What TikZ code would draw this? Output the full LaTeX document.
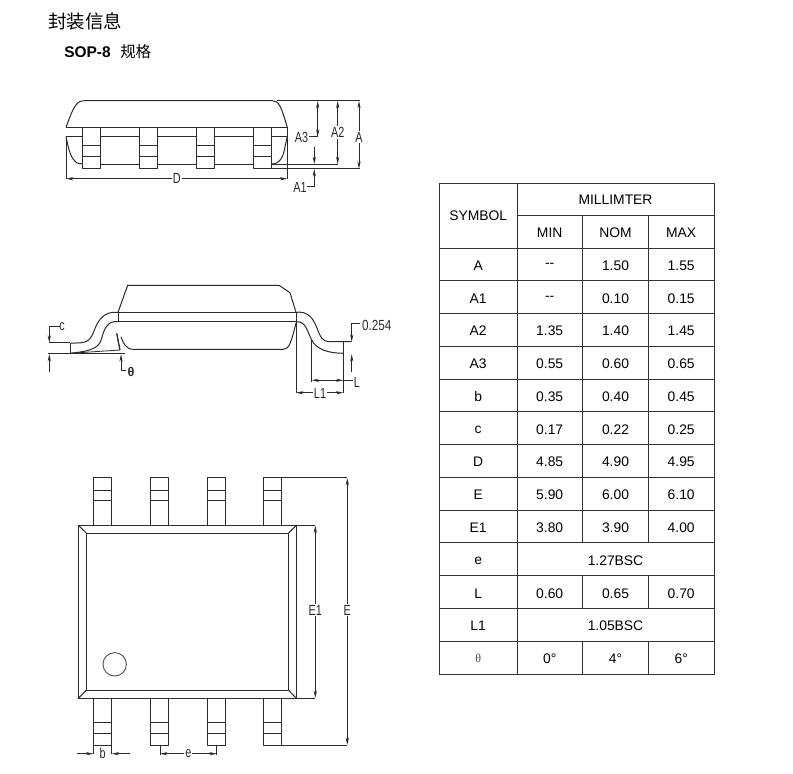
\documentclass[tikz,border=0pt]{standalone}
\usepackage{fontspec}
\setmainfont{Liberation Sans}
\newfontfamily\cjkfont{Noto Sans CJK SC}
\newfontfamily\serifgreek{Liberation Serif}
\usetikzlibrary{arrows.meta}
\definecolor{ink}{HTML}{2A2A2A}
\definecolor{tbl}{HTML}{333333}
\newcommand\dbldash{-\kern0pt-}
\tikzset{
  x=0.75pt,y=-0.75pt,
  pkg/.style={draw=ink,line width=0.75pt,line join=round},
  thinline/.style={draw=ink,line width=0.6pt},
  dimto/.style={thinline,-{Stealth[length=5.5pt,width=2.4pt]}},
  dimboth/.style={thinline,{Stealth[length=5.5pt,width=2.4pt]}-{Stealth[length=5.5pt,width=2.4pt]}},
  dimlabel/.style={font=\fontsize{11}{11}\selectfont,text=ink,inner sep=1pt,xscale=0.74,transform shape},
  dimbreak/.style={dimlabel,fill=white},
  rule/.style={draw=tbl,line width=0.7pt},
  cell/.style={font=\fontsize{10.4}{12}\selectfont,text=black,inner sep=0pt},
}
\begin{document}
\begin{tikzpicture}
\useasboundingbox (0,0) rectangle (793,774);
% ------ headings
\node[anchor=west,inner sep=0pt,font=\cjkfont\fontsize{13.9}{15}\selectfont] (title) at (48,21) {封装信息};
\node[anchor=west,inner sep=0pt,font=\bfseries\fontsize{11.6}{13}\selectfont] (sop) at (64,52) {SOP-8};
\node[anchor=west,inner sep=0pt,font=\cjkfont\fontsize{11.6}{13}\selectfont] (spec) at (120,52) {规格};

% ------ top view
\draw[pkg] (66,127.3) .. controls (70,117) and (74,104) .. (80,101.5) .. controls (82,100.7) and (84,100.7) .. (86,100.7)
  -- (272,100.7) .. controls (279,100.7) and (281,106) .. (287.3,127.3);
\draw[pkg] (66,127.3) -- (287.3,127.3);
\draw[pkg] (66,136.7) .. controls (68,146) and (70,156) .. (74,160) .. controls (76,163) and (79,164) .. (82.3,164);
\draw[pkg] (287.3,136.7) .. controls (285,146) and (284,155) .. (281,159) .. controls (278,163) and (275,164) .. (271.3,164);
\foreach \l/\r in {66/82.3,100.3/139.7,157/196.3,214.3/253.3,271.3/287.3}{
  \draw[pkg] (\l,136.7) -- (\r,136.7);
}
\foreach \l/\r in {100.3/139.7,157/196.3,214.3/253.3}{
  \draw[pkg] (\l,164) -- (\r,164);
}
\foreach \l/\r in {82.3/100.3,139.7/157,196.3/214.3,253.3/271.3}{
  \draw[pkg] (\l,127.3) rectangle (\r,168.7);
  \draw[pkg] (\l,145.3) -- (\r,145.3) (\l,156) -- (\r,156);
}
% top view dimensions
\draw[thinline] (276.7,100.7) -- (360,100.7);
\draw[thinline] (271.3,168.7) -- (360,168.7);
\draw[thinline] (271.3,164) -- (337.7,164);
\draw[dimto] (317.7,136.7) -- (317.7,101);
\draw[dimto] (317.7,120) -- (317.7,136.7);
\draw[thinline] (317.7,136.7) -- (309,136.7);
\node[dimlabel] (A3) at (301.5,137) {A3};
\draw[dimboth] (337.7,101) -- (337.7,164);
\node[dimbreak] (A2) at (337.7,132.5) {A2};
\draw[dimboth] (359,101) -- (359,168.7);
\node[dimbreak] (Atop) at (359,137) {A};
\draw[dimto] (314.3,146.7) -- (314.3,164);
\draw[dimto] (314.3,186.5) -- (314.3,169);
\draw[thinline] (314.3,186.5) -- (307,186.5);
\node[dimlabel] (A1) at (300,187) {A1};
\draw[thinline] (66,136) -- (66,179) (287.3,127.3) -- (287.3,179);
\draw[dimboth] (66,178.7) -- (287.3,178.7);
\node[dimbreak] (Dlab) at (176.7,178.7) {D};

% ------ side view
\draw[pkg] (118,312.3) -- (127.7,285.3) -- (279,285.3) -- (290,292.7) -- (296,312.3);
\draw[pkg] (118,312.3) -- (296,312.3) (118,321.7) -- (296,321.7);
\draw[pkg] (118,312.3) -- (118,321.7) (296,312.3) -- (296,393);
\draw[pkg] (121,336.7) .. controls (123,343) and (126,349.3) .. (133.3,349.3) -- (283.3,349.3)
  .. controls (289,349.3) and (291,343) .. (296,323);
% left lead
\draw[pkg] (118,312.3) .. controls (104,311) and (98,320) .. (94,331) .. controls (91,339) and (88,342) .. (82,342.7) -- (70,343.3);
\draw[pkg] (118,321.7) .. controls (108,320) and (104,329) .. (101.7,338.3) .. controls (99,348) and (92,351) .. (70,353.3);
\draw[pkg] (70,343.3) -- (70,353.3);
\draw[thinline] (48,353.3) -- (125,353.3);
\draw[thinline] (70,353.3) -- (120,350);
\draw[pkg,line width=1pt] (116.7,333.3) -- (120,350);
\draw[dimto] (121,370) -- (121,354.3);
\draw[thinline] (121,370) -- (126,370);
\node[inner sep=0pt,font=\bfseries\fontsize{9.5}{11}\selectfont,text=ink] (thetalab) at (131,372) {θ};
\draw[thinline] (60,326.7) -- (49.3,326.7);
\draw[dimto] (49.3,326.7) -- (49.3,342.7);
\node[dimlabel] (clab) at (62,327) {c};
\draw[thinline] (49,342.7) -- (70,342.7);
\draw[dimto] (49.3,372) -- (49.3,354);
% right lead
\draw[pkg] (296,312.3) .. controls (308,311) and (313,318) .. (317,328) .. controls (320,337) and (323,341.7) .. (329,341.7) -- (351.7,341.7);
\draw[pkg] (296,321.7) .. controls (306,321) and (307,331) .. (311.7,340) .. controls (316,349) and (328,353.3) .. (343.3,353.3);
\draw[thinline] (343.3,341.7) -- (343.3,393);
\draw[thinline] (311.7,340) -- (311.7,381.5);
\draw[dimboth] (311.7,380.3) -- (343.3,380.3);
\draw[thinline] (343.3,380.3) -- (353,380.3);
\node[dimlabel] (Llab) at (357,382) {L};
\draw[dimboth] (296,392.7) -- (343.3,392.7);
\node[dimbreak] (L1lab) at (320,393) {L1};
\draw[dimto] (351.7,323.3) -- (351.7,341.7);
\draw[thinline] (351.7,323.3) -- (360,323.3);
\node[dimlabel,xscale=1.08] (gauge) at (376.7,325.5) {0.254};
\draw[dimto] (351.7,372) -- (351.7,354.3);

% ------ bottom view
\draw[pkg] (78,525) rectangle (296.7,698.7);
\draw[pkg] (86.3,533) rectangle (288.7,690.3);
\draw[pkg] (78,525) -- (86.3,533) (296.7,525) -- (288.7,533) (78,698.7) -- (86.3,690.3) (296.7,698.7) -- (288.7,690.3);
\draw[draw=ink!80,line width=0.7pt] (114.7,664.3) circle[radius=11.7];
\foreach \l/\r in {93.3/111.7,150.7/168,207.3/225.3,263.3/281.3}{
  \draw[pkg] (\l,477.7) rectangle (\r,525);
  \draw[pkg] (\l,490) -- (\r,490) (\l,500.3) -- (\r,500.3);
  \draw[pkg] (\l,698.7) rectangle (\r,745.3);
  \draw[pkg] (\l,722.3) -- (\r,722.3) (\l,733.3) -- (\r,733.3);
}
% bottom view dimensions
\draw[thinline] (281.3,477.7) -- (347.3,477.7) (281.3,745.3) -- (347.3,745.3);
\draw[dimboth] (347.3,478) -- (347.3,745);
\node[dimbreak] (Elab) at (347.3,610) {E};
\draw[thinline] (296.7,525) -- (315.3,525) (296.7,698.7) -- (315.3,698.7);
\draw[dimboth] (315.3,525.5) -- (315.3,698);
\node[dimbreak] (E1lab) at (315.3,610) {E1};
\draw[dimto] (76.7,753.7) -- (93.3,753.7);
\draw[dimto] (130,753.7) -- (111.7,753.7);
\draw[thinline] (93.3,745.3) -- (93.3,753.7) (111.7,745.3) -- (111.7,753.7);
\node[dimlabel] (blab) at (102.7,753) {b};
\draw[thinline] (160,745.3) -- (160,754.5) (216.7,745.3) -- (216.7,754.5);
\draw[dimboth] (160,753.7) -- (216.7,753.7);
\node[dimbreak] (elab) at (188.3,754) {e};

% ------ table
\draw[rule] (439.5,183) rectangle (714,674);
\draw[rule] (517,183) -- (517,674);
\draw[rule] (517,215.5) -- (714,215.5);
\foreach \yy in {248,280.8,313.5,346.3,379.1,411.8,444.6,477.4,510.2,542.9,575.7,608.5,641.2}{
  \draw[rule] (439.5,\yy) -- (714,\yy);
}
\foreach \xx in {582.5,648.5}{
  \draw[rule] (\xx,215.5) -- (\xx,542.9);
  \draw[rule] (\xx,575.7) -- (\xx,608.5);
  \draw[rule] (\xx,641.2) -- (\xx,674);
}
\node[cell] (hsym) at (478.2,216) {SYMBOL};
\node[cell] (hmm) at (615.5,199.8) {MILLIMTER};
\node[cell] (hmin) at (549.7,232.5) {MIN};
\node[cell] (hnom) at (615.5,232.5) {NOM};
\node[cell] (hmax) at (681.2,232.5) {MAX};
\foreach \n/\yy/\s/\a/\b/\c in {
  1/265.6/A/\dbldash/1.50/1.55,
  2/298.4/A1/\dbldash/0.10/0.15,
  3/331.1/A2/1.35/1.40/1.45,
  4/363.9/A3/0.55/0.60/0.65,
  5/396.6/b/0.35/0.40/0.45,
  6/429.4/c/0.17/0.22/0.25,
  7/462.2/D/4.85/4.90/4.95,
  8/495/E/5.90/6.00/6.10,
  9/527.7/E1/3.80/3.90/4.00,
  11/593.3/L/0.60/0.65/0.70}{
  \node[cell] (s\n) at (478.2,\yy) {\s};
  \node[cell] (a\n) at (549.7,\yy) {\a};
  \node[cell] (b\n) at (615.5,\yy) {\b};
  \node[cell] (c\n) at (681.2,\yy) {\c};
}
\node[cell] (s10) at (478.2,560.5) {e};
\node[cell] (m10) at (615.5,560.5) {1.27BSC};
\node[cell] (s12) at (478.2,626) {L1};
\node[cell] (m12) at (615.5,626) {1.05BSC};
\node[cell,font=\serifgreek\fontsize{9}{10}\selectfont,text=black!70] (s13) at (478.2,658.7) {θ};
\node[cell] (a13) at (549.7,658.7) {0°};
\node[cell] (b13) at (615.5,658.7) {4°};
\node[cell] (c13) at (681.2,658.7) {6°};
\end{tikzpicture}
\end{document}
